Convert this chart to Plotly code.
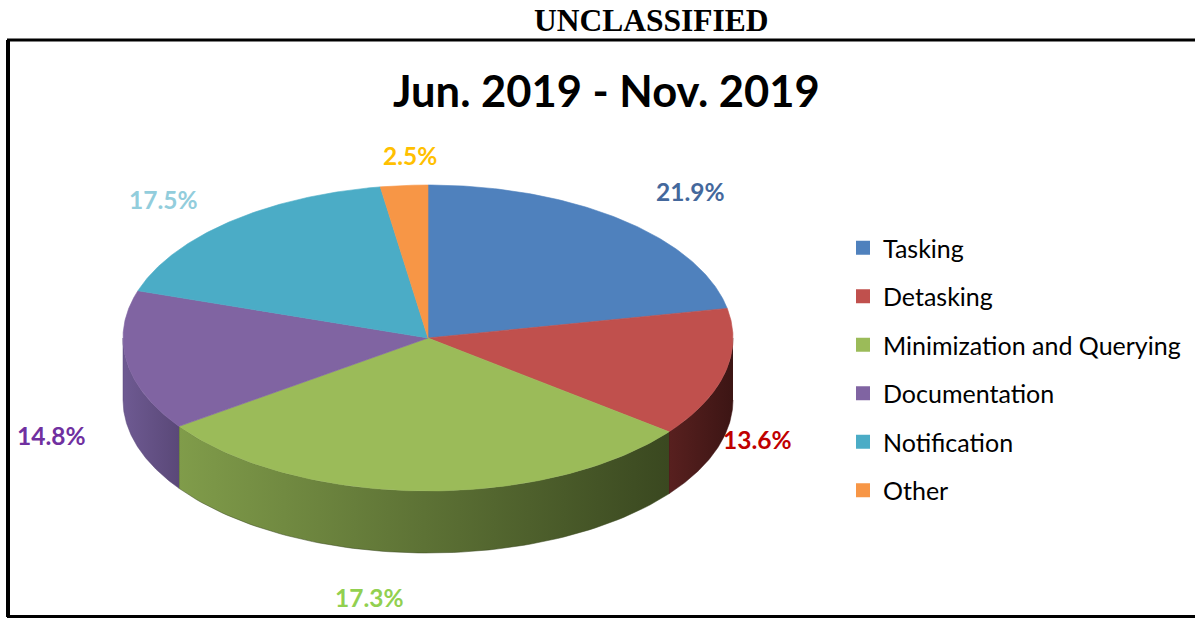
import numpy as np
import plotly.graph_objects as go

# ---- data ----
categories = ["Tasking", "Detasking", "Minimization and Querying",
              "Documentation", "Notification", "Other"]
slice_share = [21.9, 13.6, 29.7, 14.8, 17.5, 2.5]       # angular share as drawn
label_text = ["21.9%", "13.6%", "17.3%", "14.8%", "17.5%", "2.5%"]  # printed labels

# ---- style ----
top_colors = ["#4F81BD", "#C0504D", "#9BBB59", "#8064A2", "#4BACC6", "#F79646"]
side_colors = [("#3A5F8C", "#2C4870"), ("#58201F", "#3C1514"), ("#809C4A", "#3A4820"),
               ("#6E5A92", "#5A4878"), ("#37809A", "#2A6478"), ("#B86E32", "#8E5424")]
label_colors = ["#44689C", "#C00000", "#92D050", "#7030A0", "#92CDDC", "#FFC000"]
label_nudge = [(20, -2), (-41, -4), (-50, 11), (0, 7), (-17, 3), (12, 4)]  # px shifts
W, H = 1195, 618
CX, CY, RX, RY, DEPTH = 428, 338, 305, 153, 62
FONT = "Lato"

fig = go.Figure()

total = float(sum(slice_share))
bounds = np.concatenate([[0], np.cumsum(slice_share)]) / total * 360.0


def ex(t):
    return CX + RX * np.sin(np.radians(t))


def ey(t):
    return CY - RY * np.cos(np.radians(t))


# side walls (front half only)
for i in range(len(categories)):
    a0, a1 = max(bounds[i], 90.0), min(bounds[i + 1], 270.0)
    if a1 <= a0:
        continue
    t = np.linspace(a0, a1, 80)
    xs = np.concatenate([ex(t), ex(t[::-1])])
    ys = np.concatenate([ey(t), ey(t[::-1]) + DEPTH])
    fig.add_trace(go.Scatter(
        x=xs, y=ys, mode="lines", fill="toself",
        line=dict(width=0.5, color=side_colors[i][1]),
        fillgradient=dict(type="horizontal",
                          colorscale=[[0, side_colors[i][0]], [1, side_colors[i][1]]]),
        hoverinfo="skip", showlegend=False))

# top faces
for i in range(len(categories)):
    t = np.linspace(bounds[i], bounds[i + 1], 120)
    xs = np.concatenate([[CX], ex(t), [CX]])
    ys = np.concatenate([[CY], ey(t), [CY]])
    fig.add_trace(go.Scatter(
        x=xs, y=ys, mode="lines", fill="toself", fillcolor=top_colors[i],
        line=dict(width=0.6, color=top_colors[i]),
        hoverinfo="skip", showlegend=False))

# legend entries
for i, name in enumerate(categories):
    fig.add_trace(go.Scatter(
        x=[None], y=[None], mode="markers", name=name, legendgroup=name,
        marker=dict(symbol="square", size=14, color=top_colors[i])))

# data labels
for i in range(len(categories)):
    mid = (bounds[i] + bounds[i + 1]) / 2
    s, c = np.sin(np.radians(mid)), np.cos(np.radians(mid))
    lx = CX + 1.25 * RX * s
    ly = CY - 1.22 * RY * c + (DEPTH if c < 0 else 0)
    fig.add_annotation(x=lx, y=ly, text=label_text[i], showarrow=False,
                       xanchor="center", yanchor="middle",
                       xshift=label_nudge[i][0], yshift=-label_nudge[i][1],
                       font=dict(family=FONT, size=24.5, color=label_colors[i], weight="bold"))

# titles
fig.add_annotation(x=0.5455, y=1 - 21 / H, xref="paper", yref="paper",
                   xanchor="center", yanchor="middle",
                   text="<b>UNCLASSIFIED</b>", showarrow=False,
                   font=dict(family="Liberation Serif", size=31.5, color="black"))
fig.add_annotation(x=606, y=90, text="<b>Jun. 2019 - Nov. 2019</b>", showarrow=False,
                   xanchor="center", yanchor="middle",
                   font=dict(family=FONT, size=43.5, color="black"))

# frame
fig.add_shape(type="rect", x0=8.5, y0=40, x1=1210, y1=616.5,
              line=dict(color="black", width=3))
fig.add_shape(type="line", x0=8, y0=40, x1=8, y1=617, line=dict(color="black", width=4))

fig.update_layout(
    width=W, height=H, margin=dict(l=0, r=0, t=0, b=0),
    paper_bgcolor="white", plot_bgcolor="white",
    xaxis=dict(range=[0, W], visible=False, fixedrange=True),
    yaxis=dict(range=[H, 0], visible=False, fixedrange=True),
    legend=dict(x=843 / W, y=1 - 225 / H, xanchor="left", yanchor="top",
                font=dict(family=FONT, size=25, color="black"),
                tracegroupgap=13, bgcolor="rgba(0,0,0,0)"),
    showlegend=True,
)

fig.write_html("out.html", config={"displayModeBar": False},
               post_script="document.body.style.margin='0';")
